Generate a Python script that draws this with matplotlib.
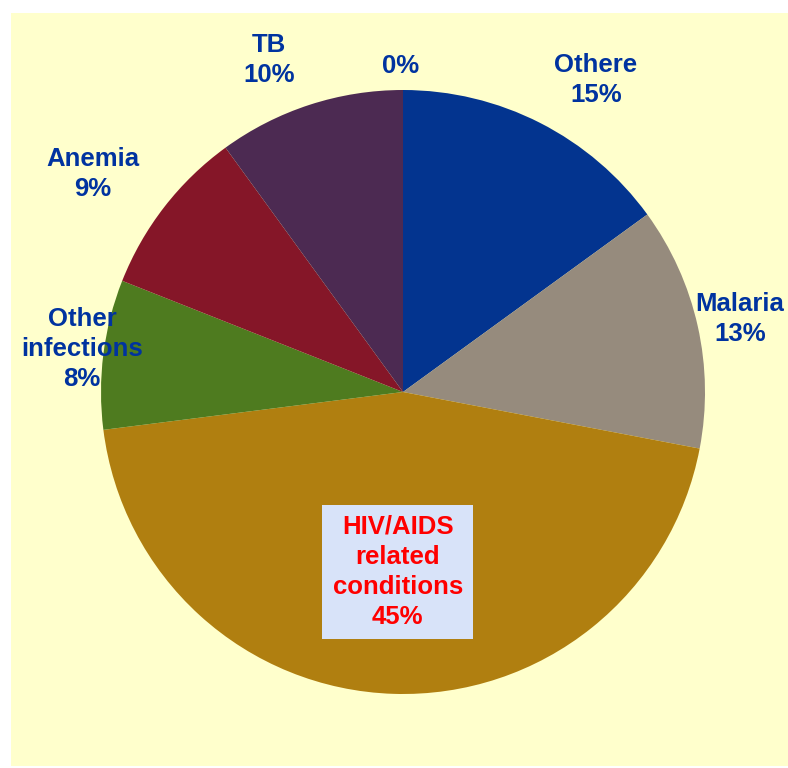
import matplotlib.pyplot as plt
from matplotlib.patches import Rectangle

# slices, clockwise from 12 o'clock
names = ["Othere", "Malaria", "HIV/AIDS\nrelated\nconditions", "Other\ninfections",
         "Anemia", "TB", ""]
values = [15, 13, 45, 8, 9, 10, 0]
colors = ["#03348F", "#968B7D", "#B07F10", "#4E7B1F", "#851628", "#4C2A52", "#7F7F7F"]

# label anchor points (axes data coords, pie radius = 1)
label_pos = [(0.639, 1.034), (1.116, 0.242), (-0.017, -0.596), (-1.063, 0.143),
             (-1.026, 0.722), (-0.444, 1.098), (-0.007, 1.080)]

W, H = 788, 768
fig = plt.figure(figsize=(W / 100, H / 100), dpi=100)
bg = Rectangle((11 / W, 2 / H), 1 - 11 / W, (766 - 13) / H,
               transform=fig.transFigure, fc="#FFFFCC", ec="none", zorder=-10)
fig.add_artist(bg)

cx, cy, r = 403, 392, 302
ax = fig.add_axes([(cx - r) / W, (H - cy - r) / H, 2 * r / W, 2 * r / H])
ax.set_zorder(5)
ax.patch.set_visible(False)
ax.pie(values, colors=colors, startangle=90, counterclock=False, radius=1,
       wedgeprops=dict(linewidth=0))
ax.set_xlim(-1, 1)
ax.set_ylim(-1, 1)
ax.set_aspect("equal")
ax.axis("off")

font = dict(family="Liberation Sans", weight="bold", fontsize=18.5)
for name, v, (x, y) in zip(names, values, label_pos):
    txt = f"{name}\n{v}%" if name else f"{v}%"
    if name.startswith("HIV"):
        ax.text(x, y, txt, ha="center", va="center", color="#FF0000",
                linespacing=1.32, clip_on=False, **font,
                bbox=dict(boxstyle="square,pad=0.4", fc="#D8E3F9", ec="none"))
    else:
        ax.text(x, y, txt, ha="center", va="center", color="#0033A0",
                linespacing=1.32, clip_on=False, **font)

fig.savefig("out.png", dpi=100)
